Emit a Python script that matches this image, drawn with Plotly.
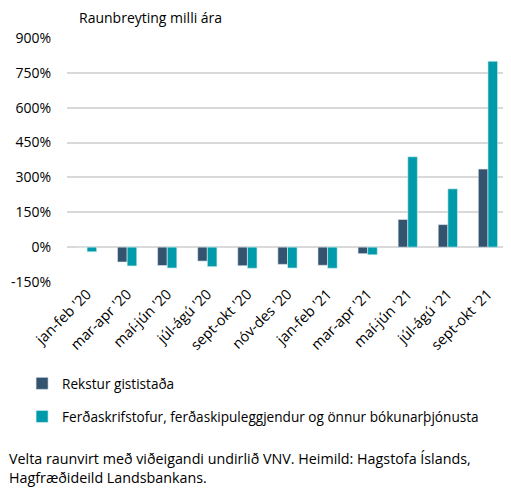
import plotly.graph_objects as go

categories = ["jan-feb '20", "mar-apr '20", "maí-jún '20", "júl-ágú '20", "sept-okt '20",
              "nóv-des '20", "jan-feb '21", "mar-apr '21", "maí-jún '21", "júl-ágú '21", "sept-okt '21"]
rekstur = [0, -64, -79, -60, -80, -74, -78, -28, 119, 97, 336]
ferda = [-20, -81, -90, -84, -91, -90, -91, -33, 389, 251, 800]
y_ticks = [-150, 0, 150, 300, 450, 600, 750, 900]

FONT = "'Open Sans', sans-serif"
FS = 14.5
LFS = 13.6

fig = go.Figure()
fig.add_trace(go.Bar(x=categories, y=rekstur, name="Rekstur gististaða",
                     marker=dict(color="#34536F", line=dict(color="#dfe6ec", width=0.6)),
                     legend="legend"))
fig.add_trace(go.Bar(x=categories, y=ferda,
                     name="Ferðaskrifstofur, ferðaskipuleggjendur og önnur bókunarþjónusta",
                     marker=dict(color="#009BAA", line=dict(color="#dff3f5", width=0.6)),
                     legend="legend2"))

fig.update_layout(
    width=503, height=480,
    margin=dict(l=59, r=3, t=30, b=206, autoexpand=False),
    paper_bgcolor="white", plot_bgcolor="white",
    font=dict(family=FONT, size=FS, color="#000000"),
    barmode="group", bargap=0.52, bargroupgap=0,
    showlegend=True,
    legend=dict(x=0.028, y=0.25, xref="container", yref="container",
                xanchor="left", yanchor="top",
                font=dict(size=LFS), itemwidth=30, bgcolor="rgba(0,0,0,0)"),
    legend2=dict(x=0.028, y=0.181, xref="container", yref="container",
                 xanchor="left", yanchor="top",
                 font=dict(size=LFS), itemwidth=30, bgcolor="rgba(0,0,0,0)"),
    xaxis=dict(tickangle=-45, showgrid=False, zeroline=False, showline=False,
               ticks="", tickfont=dict(size=FS), automargin=False),
    yaxis=dict(range=[-150, 900], tickvals=y_ticks,
               ticktext=[f"{v}%" for v in y_ticks],
               showgrid=True, gridcolor="#d9d9d9", gridwidth=1.5,
               zeroline=True, zerolinecolor="#d9d9d9", zerolinewidth=1.5,
               showline=False, ticks="", ticklabelstandoff=15, tickfont=dict(size=14),
               automargin=False),
    annotations=[
        dict(text="Raunbreyting milli ára", xref="paper", yref="paper",
             x=0.022, y=1.082, xanchor="left", yanchor="middle", showarrow=False,
             font=dict(size=14)),
        dict(text="Velta raunvirt með viðeigandi undirlið VNV. Heimild: Hagstofa Íslands,<br>Hagfræðideild Landsbankans.",
             xref="paper", yref="paper", x=-0.136, y=-0.676, xanchor="left", yanchor="top",
             align="left", showarrow=False, font=dict(size=14.3)),
    ],
)

fig.write_html("out.html")
